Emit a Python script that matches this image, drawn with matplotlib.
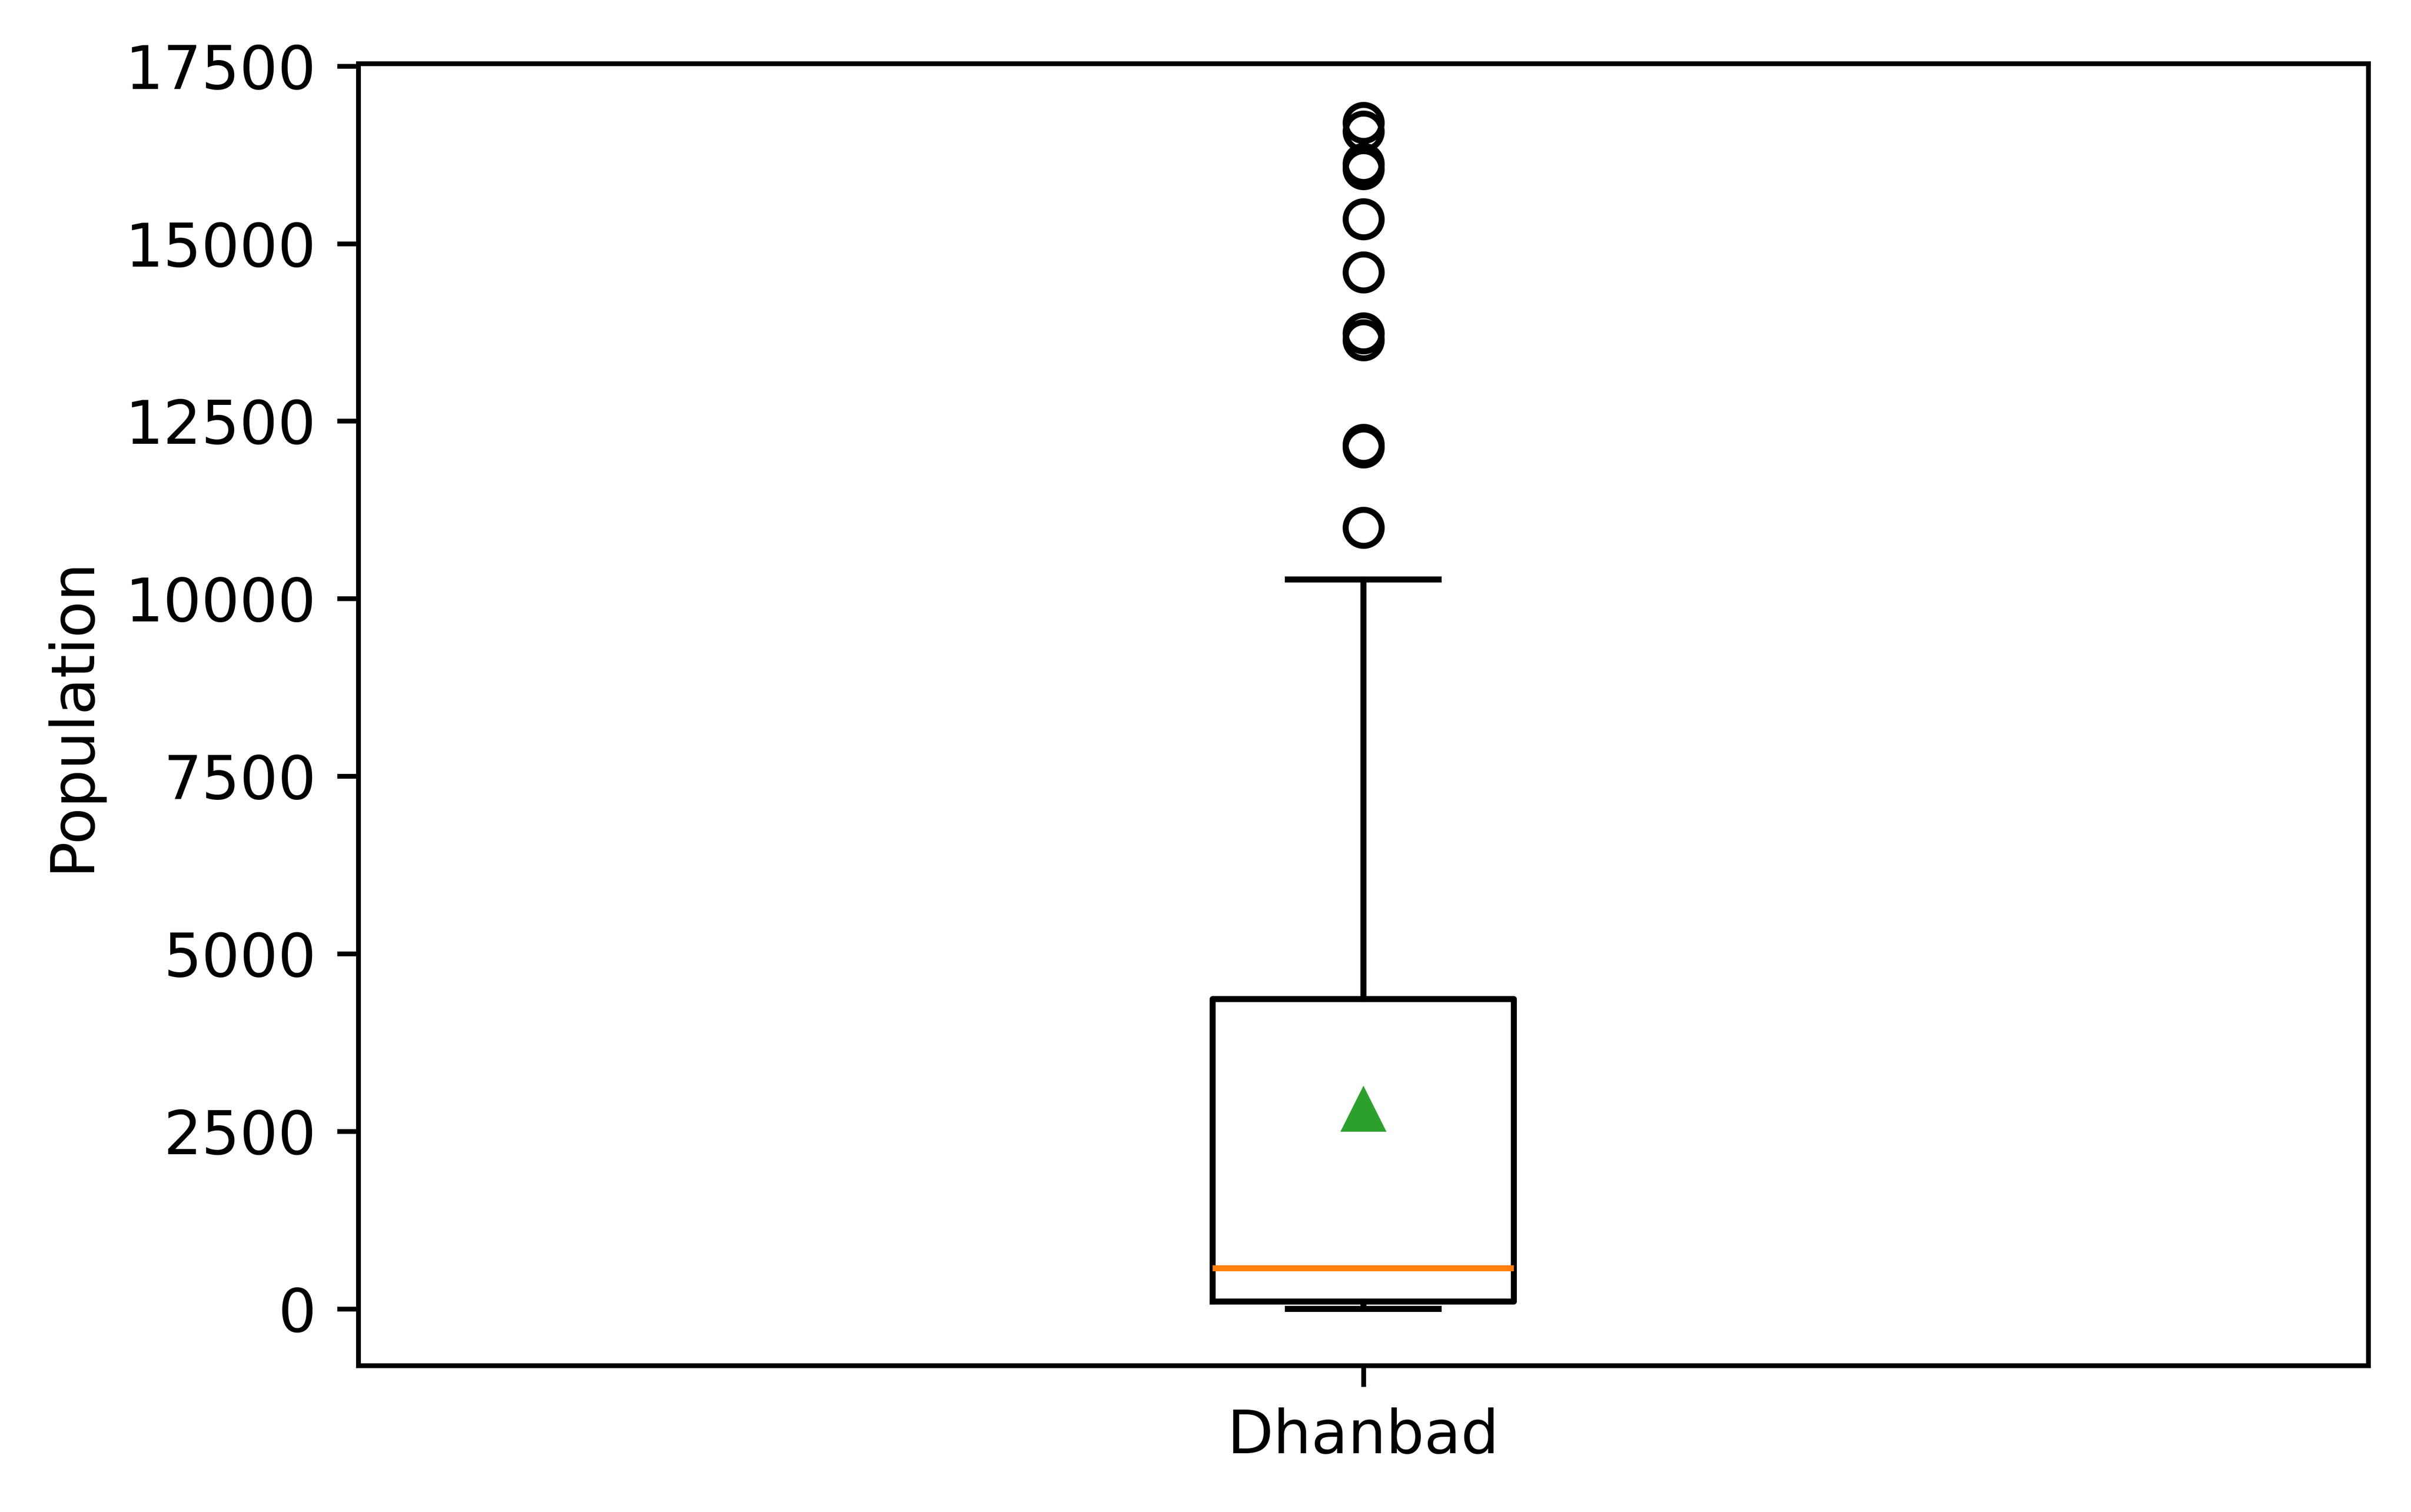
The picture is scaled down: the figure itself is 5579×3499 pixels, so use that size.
import matplotlib
matplotlib.use("Agg")
import matplotlib.pyplot as plt

# Data
category = "Dhanbad"
whisker_low = 0
q1 = 101
median = 569
q3 = 4362
whisker_high = 10267
mean_value = 2793
outliers = [10998, 12170, 12130, 13740, 13640, 14596, 15341,
            16120, 16050, 16700, 16580]

stats = [{
    "label": category,
    "whislo": whisker_low,
    "q1": q1,
    "med": median,
    "q3": q3,
    "whishi": whisker_high,
    "mean": mean_value,
    "fliers": outliers,
}]

plt.rcParams['font.family'] = ['DejaVu Sans']
plt.rcParams['font.size'] = 10

fig = plt.figure(figsize=(5.579, 3.499), dpi=1000)
ax = fig.add_axes([829 / 5579, (3499 - 3160) / 3499, (5480 - 829) / 5579, 3013 / 3499])
ax.bxp(stats, positions=[1], widths=0.15, showmeans=True, showfliers=True)
ax.set_xlim(0.5, 1.5)
ax.set_ylim(-797, 17534)
ax.set_ylabel("Population")

fig.savefig("out.png", dpi=1000)
